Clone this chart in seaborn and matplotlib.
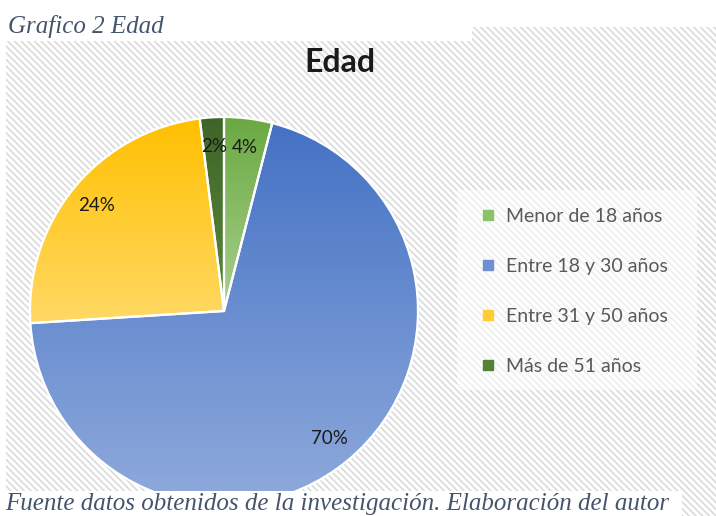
import numpy as np
import matplotlib
matplotlib.use("Agg")
import matplotlib.pyplot as plt
import seaborn as sns
from matplotlib.patches import Rectangle
from matplotlib.lines import Line2D
from matplotlib.colors import LinearSegmentedColormap

# datos del grafico
categorias = ["Menor de 18 años", "Entre 18 y 30 años", "Entre 31 y 50 años", "Más de 51 años"]
porcentajes = [4, 70, 24, 2]

# colores (degradado arriba -> abajo) y color de la leyenda
color_arriba = ["#6aa842", "#4472c4", "#ffc000", "#3f6428"]
color_abajo = ["#a9d18e", "#8faadc", "#ffd966", "#5a8a3a"]
color_leyenda = ["#8cc36a", "#6f8fd0", "#ffcc33", "#548235"]

sns.set_theme(style="white")
plt.rcParams["font.family"] = ["Lato", "DejaVu Sans"]

W, H = 716, 516
fig = plt.figure(figsize=(W / 100, H / 100), dpi=100)
fig.patch.set_facecolor("white")

def fx(x):
    return x / W

def fy(y):
    return 1 - y / H

# fondo rayado
plt.rcParams["hatch.linewidth"] = 1.2
fig.add_artist(Rectangle((fx(6), 0), (W - 6) / W, (H - 27) / H, transform=fig.transFigure,
                         facecolor="white", edgecolor="#dadada", hatch="\\\\\\\\\\", linewidth=0, zorder=-3))
# tapa blanca del titulo superior
fig.add_artist(Rectangle((0, fy(41)), 472 / W, 41 / H, transform=fig.transFigure,
                         facecolor="white", edgecolor="none", zorder=-2))
# caja de la leyenda
fig.add_artist(Rectangle((fx(457), fy(390)), 240 / W, 200 / H, transform=fig.transFigure,
                         facecolor="white", alpha=0.55, edgecolor="none", zorder=-2))

# pastel
R = 194
ax = fig.add_axes([fx(224 - 200), fy(311 + 200), 400 / W, 400 / H])
wedges, texts, autotexts = ax.pie(
    porcentajes, startangle=90, counterclock=False,
    autopct=lambda p: f"{p:.0f}%", pctdistance=0.85,
    wedgeprops=dict(edgecolor="white", linewidth=1.6),
    textprops=dict(fontsize=13.5, color="#1a1a1a"),
)
grad = np.linspace(0, 1, 256).reshape(-1, 1)
for w, c1, c2 in zip(wedges, color_arriba, color_abajo):
    b = w.get_path().get_extents()
    cmap = LinearSegmentedColormap.from_list("g", [c2, c1])
    im = ax.imshow(grad, cmap=cmap, extent=(b.x0, b.x1, b.y0, b.y1), origin="lower",
                   aspect="auto", zorder=1, interpolation="bilinear")
    im.set_clip_path(w)
    w.set_facecolor("none")
    w.set_zorder(2)
for t in autotexts:
    t.set_zorder(4)
lim = 200 / R
ax.set_xlim(-lim, lim)
ax.set_ylim(-lim, lim)
ax.set_aspect("equal")
ax.axis("off")

# titulo
fig.text(fx(340), fy(62), "Edad", ha="center", va="center", fontsize=23,
         fontweight="bold", color="#1a1a1a")

# leyenda
handles = [Line2D([], [], marker="s", linestyle="none", markersize=7,
                  markerfacecolor=c, markeredgecolor=c) for c in color_leyenda]
fig.legend(handles, categorias, loc="upper left", bbox_to_anchor=(fx(463), fy(190)),
           frameon=False, labelspacing=1.7, handlelength=0.8, handletextpad=0.5,
           fontsize=14, labelcolor="#595959")

# textos del documento
fig.text(fx(8), fy(33), "Grafico 2 Edad", family=["Liberation Serif"], style="italic",
         fontsize=18, color="#44546a", va="baseline")
fig.add_artist(Rectangle((0, 0), 682 / W, (H - 491) / H, transform=fig.transFigure,
                         facecolor="white", edgecolor="none", zorder=5))
fig.text(fx(5), fy(510), "Fuente datos obtenidos de la investigación. Elaboración del autor",
         family=["Liberation Serif"], style="italic", fontsize=18, color="#44546a",
         va="baseline", zorder=6)

fig.savefig("out.png", dpi=100)
